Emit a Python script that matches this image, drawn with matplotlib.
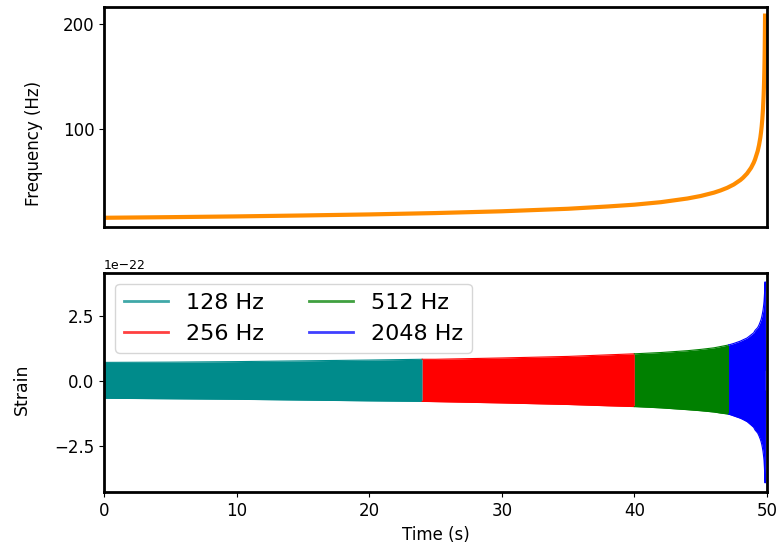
import matplotlib
matplotlib.use("Agg")
import matplotlib.pyplot as plt
import numpy as np

# Frequency track
freq_time = [0, 5, 10, 15, 20, 25, 30, 35, 38, 40, 42, 44, 45, 46, 46.5, 47,
             47.5, 48, 48.2, 48.5, 48.8, 49.0, 49.1, 49.3, 49.4, 49.5, 49.55,
             49.6, 49.65, 49.7, 49.75, 49.78, 49.8, 49.815, 49.83, 49.845, 49.855]
freq_hz = [15.0, 15.6, 16.3, 17.2, 18.2, 19.5, 21.2, 23.6, 25.8, 27.5, 29.9,
           33.4, 35.8, 39.0, 41.1, 43.6, 46.8, 51.1, 53.3, 57.3, 62.7, 67.6,
           70.7, 78.7, 84.3, 91.6, 96.4, 102.1, 109.3, 118.8, 132.4, 143.9,
           154.2, 163.8, 176.0, 193.0, 208.0]

# Strain envelope (units of 1e-22)
env_time = [0, 5, 10, 15, 20, 24, 25, 30, 35, 38, 40, 42, 44, 45, 46, 46.5,
            47.1, 47.5, 48, 48.2, 48.5, 48.8, 49.0, 49.1, 49.3, 49.4, 49.5,
            49.55, 49.6, 49.65, 49.7, 49.75, 49.78, 49.8, 49.815, 49.83,
            49.845, 49.86, 49.88]
env_upper = [0.70, 0.71, 0.73, 0.76, 0.79, 0.82, 0.82, 0.87, 0.93, 0.99, 1.03,
             1.08, 1.15, 1.20, 1.26, 1.31, 1.37, 1.43, 1.52, 1.57, 1.64, 1.76,
             1.84, 1.93, 2.04, 2.14, 2.27, 2.34, 2.44, 2.56, 2.70, 2.90, 3.05,
             3.22, 3.35, 3.50, 3.65, 3.80, 0.4]
env_lower = [-0.68, -0.70, -0.72, -0.75, -0.78, -0.80, -0.81, -0.86, -0.92,
             -0.97, -1.00, -1.05, -1.12, -1.16, -1.21, -1.25, -1.29, -1.36,
             -1.45, -1.50, -1.58, -1.71, -1.80, -1.90, -2.02, -2.13, -2.26,
             -2.34, -2.44, -2.57, -2.72, -2.93, -3.08, -3.28, -3.42, -3.58,
             -3.76, -3.94, -0.4]
scale = 1e-22

seg_labels = ["128 Hz", "256 Hz", "512 Hz", "2048 Hz"]
seg_bounds = [0, 24, 40, 47.1, 49.88]
seg_colors = ["#008b8b", "#ff0000", "#008000", "#0000ff"]

plt.rcParams["font.family"] = "DejaVu Sans"
fig = plt.figure(figsize=(7.8, 5.51), dpi=100)
ax1 = fig.add_axes([0.1333, 0.5886, 0.8500, 0.3992])
ax2 = fig.add_axes([0.1333, 0.1065, 0.8500, 0.3985])

ax1.plot(freq_time, freq_hz, color="#ff8c00", lw=3)
ax1.set_xlim(0, 50)
ax1.set_ylim(6.5, 216.5)
ax1.set_yticks([100, 200])
ax1.set_xticks([])
ax1.set_ylabel("Frequency (Hz)", fontsize=12)
ax1.yaxis.set_label_coords(-0.092, 0.38)
ax1.tick_params(labelsize=12)

et = np.array(env_time)
eu = np.array(env_upper) * scale
el = np.array(env_lower) * scale
for i, (lab, col) in enumerate(zip(seg_labels, seg_colors)):
    lo_b, hi_b = seg_bounds[i], seg_bounds[i + 1]
    m = (et >= lo_b) & (et <= hi_b)
    ax2.fill_between(et[m], el[m], eu[m], color=col, lw=0)
    ax2.plot(et[m], eu[m], color=col, lw=0.8, label=lab)
    ax2.plot(et[m], el[m], color=col, lw=0.8)

ax2.set_xlim(0, 50)
ax2.set_ylim(-4.3e-22, 4.15e-22)
ax2.set_yticks([-2.5e-22, 0, 2.5e-22])
ax2.set_xticks([0, 10, 20, 30, 40, 50])
ax2.set_xlabel("Time (s)", fontsize=12)
ax2.set_ylabel("Strain", fontsize=12.5)
ax2.yaxis.set_label_coords(-0.110, 0.47)
ax2.tick_params(labelsize=12)
ax2.yaxis.get_offset_text().set_fontsize(9)
leg = ax2.legend(ncol=2, loc="upper left", fontsize=16, handlelength=2.0)
for h in leg.get_lines():
    h.set_linewidth(2)
    h.set_alpha(0.75)

for ax in (ax1, ax2):
    for s in ax.spines.values():
        s.set_linewidth(2)
        s.set_color("black")

fig.savefig("out.png", dpi=100)
